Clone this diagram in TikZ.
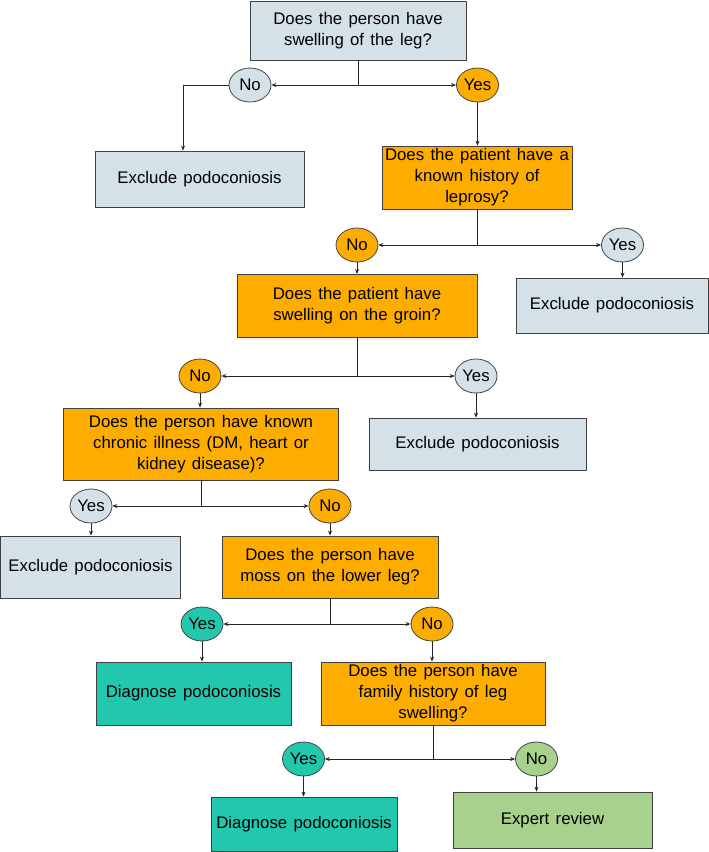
\documentclass[tikz,border=0pt]{standalone}
\usepackage{fontspec}
\setmainfont{Liberation Sans}[WordSpace=1.35]
\usetikzlibrary{shapes.geometric,arrows.meta}
\definecolor{lblue}{HTML}{D4E1E9}
\definecolor{orng}{HTML}{FDAD00}
\definecolor{teal2}{HTML}{22C8AE}
\definecolor{grn}{HTML}{A9D18E}
\definecolor{edge}{HTML}{404040}
\tikzset{
  box/.style={rectangle,draw=edge,line width=0.8pt,align=center,inner sep=2pt,
    font=\fontsize{16.8}{21}\selectfont},
  oval/.style={ellipse,draw=edge,line width=0.8pt,inner sep=0pt,minimum width=42pt,minimum height=34pt,
    font=\fontsize{16.8}{20}\selectfont},
  conn/.style={draw=black!85,line width=0.7pt},
  arr/.style={conn,-{Stealth[length=5pt,width=4pt]}},
}
\begin{document}
\begin{tikzpicture}[x=1pt,y=-1pt]
\useasboundingbox (0,0) rectangle (709,852);
% nodes
\node[box,fill=lblue,minimum width=216pt,minimum height=59pt] (q1) at (358,30.5) {Does the person have\\swelling of the leg?};
\node[oval,fill=lblue] (no1) at (250,85) {No};
\node[oval,fill=orng] (yes1) at (477.5,85) {Yes};
\node[box,fill=lblue,minimum width=209pt,minimum height=56pt] (ex1) at (199.5,179) {Exclude podoconiosis};
\node[box,fill=orng,minimum width=190pt,minimum height=63pt] (q2) at (477,177.5) {Does the patient have a\\known history of\\leprosy?};
\node[oval,fill=orng] (no2) at (357,245) {No};
\node[oval,fill=lblue] (yes2) at (622.5,245) {Yes};
\node[box,fill=orng,minimum width=240pt,minimum height=63pt] (q3) at (357,306) {Does the patient have\\swelling on the groin?};
\node[box,fill=lblue,minimum width=192pt,minimum height=55pt] (ex2) at (612,305.5) {Exclude podoconiosis};
\node[oval,fill=orng] (no3) at (200,376) {No};
\node[oval,fill=lblue] (yes3) at (476,376) {Yes};
\node[box,fill=orng,minimum width=275pt,minimum height=72pt] (q4) at (201,444) {Does the person have known\\chronic illness (DM, heart or\\kidney disease)?};
\node[box,fill=lblue,minimum width=217pt,minimum height=52pt] (ex3) at (477.5,444) {Exclude podoconiosis};
\node[oval,fill=lblue] (yes4) at (91,506) {Yes};
\node[oval,fill=orng] (no4) at (330,506) {No};
\node[box,fill=lblue,minimum width=180pt,minimum height=62pt] (ex4) at (90.5,567) {Exclude podoconiosis};
\node[box,fill=orng,minimum width=216pt,minimum height=62pt] (q5) at (330,567) {Does the person have\\moss on the lower leg?};
\node[oval,fill=teal2] (yes5) at (202,624) {Yes};
\node[oval,fill=orng] (no5) at (432,624) {No};
\node[box,fill=teal2,minimum width=195pt,minimum height=63pt] (dg1) at (193.5,693.5) {Diagnose podoconiosis};
\node[box,fill=orng,minimum width=224pt,minimum height=63pt] (q6) at (433,693.5) {Does the person have\\family history of leg\\swelling?};
\node[oval,fill=teal2] (yes6) at (303.5,759) {Yes};
\node[oval,fill=grn] (no6) at (536.5,759) {No};
\node[box,fill=teal2,minimum width=186pt,minimum height=54pt] (dg2) at (304,824) {Diagnose podoconiosis};
\node[box,fill=grn,minimum width=199pt,minimum height=56pt] (er) at (552.5,820) {Expert review};
% connectors
\coordinate (j1) at (q1.south |- no1);
\draw[conn] (q1.south) -- (j1);
\draw[arr] (j1) -- (no1.east);
\draw[arr] (j1) -- (yes1.west);
\draw[arr] (no1.west) -| ([xshift=-16.5pt]ex1.north);
\draw[arr] (yes1.south) -- (yes1.south |- q2.north);
\coordinate (j2) at (q2.south |- no2);
\draw[conn] (q2.south) -- (j2);
\draw[arr] (j2) -- (no2.east);
\draw[arr] (j2) -- (yes2.west);
\draw[arr] (no2.south) -- (no2.south |- q3.north);
\draw[arr] (yes2.south) -- (yes2.south |- ex2.north);
\coordinate (j3) at (q3.south |- no3);
\draw[conn] (q3.south) -- (j3);
\draw[arr] (j3) -- (no3.east);
\draw[arr] (j3) -- (yes3.west);
\draw[arr] (no3.south) -- (no3.south |- q4.north);
\draw[arr] (yes3.south) -- (yes3.south |- ex3.north);
\coordinate (j4) at (q4.south |- yes4);
\draw[conn] (q4.south) -- (j4);
\draw[arr] (j4) -- (yes4.east);
\draw[arr] (j4) -- (no4.west);
\draw[arr] (yes4.south) -- (yes4.south |- ex4.north);
\draw[arr] (no4.south) -- (no4.south |- q5.north);
\coordinate (j5) at (q5.south |- yes5);
\draw[conn] (q5.south) -- (j5);
\draw[arr] (j5) -- (yes5.east);
\draw[arr] (j5) -- (no5.west);
\draw[arr] (yes5.south) -- (yes5.south |- dg1.north);
\draw[arr] (no5.south) -- (no5.south |- q6.north);
\coordinate (j6) at (q6.south |- yes6);
\draw[conn] (q6.south) -- (j6);
\draw[arr] (j6) -- (yes6.east);
\draw[arr] (j6) -- (no6.west);
\draw[arr] (yes6.south) -- (yes6.south |- dg2.north);
\draw[arr] (no6.south) -- (no6.south |- er.north);
\end{tikzpicture}
\end{document}
